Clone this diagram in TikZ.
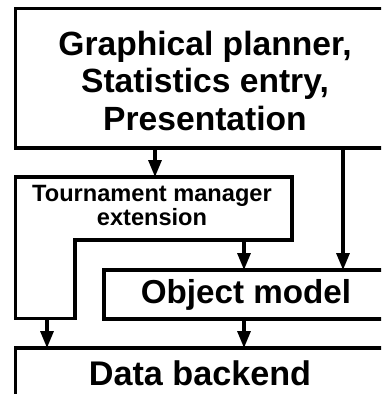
\documentclass[tikz,border=0pt]{standalone}
\usepackage{fontspec}
\setmainfont{Liberation Sans}
\usetikzlibrary{arrows.meta}
\begin{document}
\begin{tikzpicture}[x=1pt,y=-1pt,
  box/.style={draw,line width=3.2pt},
  flow/.style={line width=3.2pt,-{Triangle[width=13pt,length=17pt]}},
  label/.style={inner sep=0pt,anchor=base,align=center},
  bigtext/.style={label,font=\fontsize{33.6}{37.5}\selectfont\bfseries},
  smalltext/.style={label,font=\fontsize{23.6}{22}\selectfont\bfseries}]
\useasboundingbox (0,0) rectangle (381,394);
\clip (0,0) rectangle (381,394);

% outlines of the four layers (they run past the right and bottom edges)
\path[box] (15.3,8.7) rectangle (420,148);
\path[box] (15.3,177) -- (292,177) -- (292,240) -- (75,240) -- (75,318.5) -- (15.3,318.5) -- cycle;
\path[box] (104,270) rectangle (420,319);
\path[box] (15.3,348) rectangle (420,420);

% labels (a multi-line label sits on the baseline of its last line)
\node[bigtext] (ui) at (205,130) {Graphical planner,\\Statistics entry,\\Presentation};
\node[smalltext] (tm) at (152,225) {Tournament manager\\extension};
\node[bigtext,font=\fontsize{33.2}{38}\selectfont\bfseries] (om) at (246,303) {Object model};
\node[bigtext,font=\fontsize{34.2}{38}\selectfont\bfseries] (db) at (200,385) {Data backend};

% connector end points on the box edges
\coordinate (uiA) at (155,148);
\coordinate (uiB) at (343,148);
\coordinate (tmTop) at (155,177);
\coordinate (tmStep) at (244,240);
\coordinate (tmFoot) at (47,318.5);
\coordinate (omTopA) at (244,270);
\coordinate (omTopB) at (343,270);
\coordinate (omBot) at (244,319);
\coordinate (dbTopA) at (47,348);
\coordinate (dbTopB) at (244,348);

\draw[flow] (uiA) -- (tmTop);
\draw[flow] (uiB) -- (omTopB);
\draw[flow] (tmStep) -- (omTopA);
\draw[flow] (tmFoot) -- (dbTopA);
\draw[flow] (omBot) -- (dbTopB);
\end{tikzpicture}
\end{document}
